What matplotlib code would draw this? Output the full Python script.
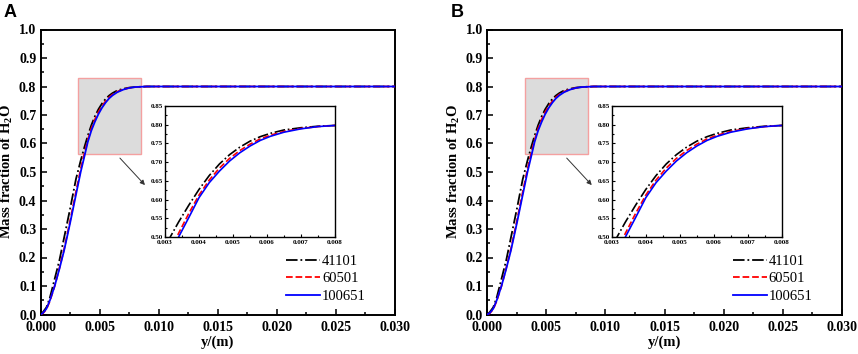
import matplotlib
matplotlib.use('Agg')
import matplotlib.pyplot as plt
from matplotlib.patches import Rectangle
from matplotlib.ticker import MultipleLocator

plt.rcParams['font.family'] = 'Liberation Serif'
plt.rcParams['mathtext.fontset'] = 'custom'
plt.rcParams['mathtext.rm'] = 'Liberation Serif:bold'
plt.rcParams['mathtext.it'] = 'Liberation Serif:bold'
plt.rcParams['mathtext.bf'] = 'Liberation Serif:bold'

# positions along the channel (m)
y_pos = [0, 0.0002, 0.0005, 0.0008, 0.0012, 0.0016, 0.002, 0.0025, 0.003,
         0.0034, 0.0037, 0.004, 0.0043, 0.0046, 0.0049, 0.0052, 0.0055,
         0.0058, 0.0061, 0.0065, 0.007, 0.0075, 0.008, 0.009, 0.01, 0.03]

# mass fraction of H2O for each mesh
h2o_41101 = [0, 0.008, 0.025, 0.06, 0.125, 0.19, 0.27, 0.37, 0.475,
             0.540, 0.585, 0.627, 0.664, 0.695, 0.720, 0.740, 0.756,
             0.768, 0.777, 0.786, 0.792, 0.796, 0.798, 0.80, 0.80, 0.80]
h2o_60501 = [0, 0.004, 0.018, 0.048, 0.10, 0.163, 0.23, 0.328, 0.43,
             0.510, 0.563, 0.612, 0.652, 0.684, 0.710, 0.731, 0.748,
             0.762, 0.772, 0.782, 0.790, 0.795, 0.798, 0.80, 0.80, 0.80]
h2o_100651 = [0, 0.005, 0.02, 0.05, 0.10, 0.16, 0.225, 0.32, 0.42,
              0.500, 0.552, 0.605, 0.645, 0.676, 0.703, 0.725, 0.743,
              0.758, 0.769, 0.780, 0.789, 0.795, 0.798, 0.80, 0.80, 0.80]

labels = ['41101', '60501', '100651']
series = [h2o_41101, h2o_60501, h2o_100651]
styles = [dict(color='black', ls='-.'),
          dict(color='red', ls='--'),
          dict(color='blue', ls='-')]

W, H = 858, 354
fig = plt.figure(figsize=(W / 100, H / 100), dpi=100)


def style_axis(ax, lw, size, length, minor_len, xpad, ypad):
    for s in ax.spines.values():
        s.set_linewidth(lw)
    ax.tick_params(which='major', direction='in', length=length, width=lw * 0.8,
                   labelsize=size)
    ax.tick_params(which='minor', direction='in', length=minor_len, width=lw * 0.8)
    ax.tick_params(axis='x', pad=xpad)
    ax.tick_params(axis='y', pad=ypad)
    for t in ax.get_xticklabels() + ax.get_yticklabels():
        t.set_fontweight('bold')


def draw_panel(left_px, tag):
    ax = fig.add_axes([left_px / W, 39.5 / H, 354.5 / W, 285 / H])
    ax.add_patch(Rectangle((0.00315, 0.564), 0.00535, 0.267, facecolor='#dcdcdc',
                           edgecolor='#f4a0a0', lw=1.0, zorder=1))
    for vals, lab, st in zip(series, labels, styles):
        ax.plot(y_pos, vals, lw=1.3, label=lab, zorder=3, **st)
    ax.set_xlim(0, 0.030)
    ax.set_ylim(0, 1.0)
    ax.xaxis.set_major_locator(MultipleLocator(0.005))
    ax.xaxis.set_minor_locator(MultipleLocator(0.0025))
    ax.yaxis.set_major_locator(MultipleLocator(0.1))
    ax.yaxis.set_minor_locator(MultipleLocator(0.05))
    ax.xaxis.set_major_formatter(lambda v, p: f'{v:.3f}')
    ax.yaxis.set_major_formatter(lambda v, p: f'{v:.1f}')
    style_axis(ax, 1.4, 10, 4, 2, 5, 3)
    ax.set_xlabel('y/(m)', fontsize=10.5, fontweight='bold', labelpad=1)
    ax.set_ylabel('Mass fraction of H$_2$O', fontsize=10.5, fontweight='bold',
                  labelpad=3)
    ax.legend(loc='lower right', bbox_to_anchor=(0.955, -0.005), frameon=False,
              prop={'family': 'Liberation Serif', 'size': 10.5},
              handlelength=2.3, handletextpad=0.15, labelspacing=0.3)
    ax.annotate('', xy=(0.0090, 0.447), xytext=(0.00656, 0.556),
                arrowprops=dict(arrowstyle='-|>', color='#333333', lw=0.7,
                                mutation_scale=7))

    ins = fig.add_axes([(left_px + 124.5) / W, 117 / H, 170 / W, 131 / H])
    for vals, st in zip(series, styles):
        ins.plot(y_pos, vals, lw=1.2, **st)
    ins.set_xlim(0.003, 0.008)
    ins.set_ylim(0.50, 0.85)
    ins.xaxis.set_major_locator(MultipleLocator(0.001))
    ins.xaxis.set_minor_locator(MultipleLocator(0.0005))
    ins.yaxis.set_major_locator(MultipleLocator(0.05))
    ins.yaxis.set_minor_locator(MultipleLocator(0.025))
    ins.xaxis.set_major_formatter(lambda v, p: f'{v:.3f}')
    ins.yaxis.set_major_formatter(lambda v, p: f'{v:.2f}')
    style_axis(ins, 1.0, 5, 2.5, 1.3, 2.5, 1.5)

    fig.text((left_px - 37) / W, 1 - 17 / H, tag, fontsize=13, fontweight='bold',
             family='Liberation Sans')


draw_panel(40.5, 'A')
draw_panel(487.3, 'B')

fig.savefig('out.png', dpi=100)
